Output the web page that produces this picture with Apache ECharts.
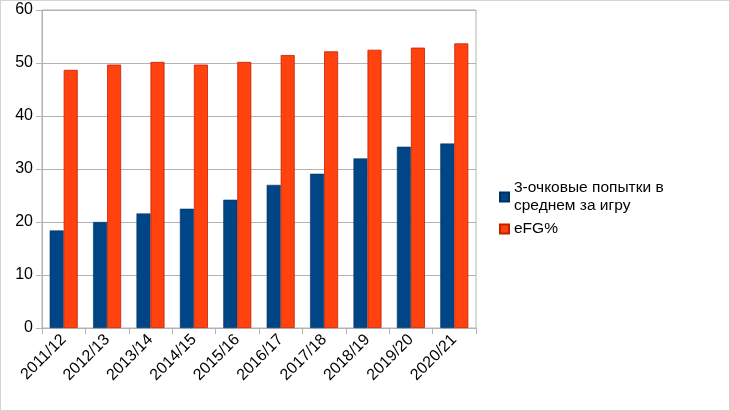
<!DOCTYPE html>
<html><head><meta charset="utf-8">
<script src="https://cdn.jsdelivr.net/npm/echarts@6/dist/echarts.min.js"></script>
<style>html,body{margin:0;padding:0;background:#fff}#c{width:730px;height:411px;box-sizing:border-box;border:1px solid #d4d4d4}</style>
</head><body><div id="c"></div>
<script>
const categories = ['2011/12','2012/13','2013/14','2014/15','2015/16','2016/17','2017/18','2018/19','2019/20','2020/21'];
const threePointAttempts = [18.4, 20.0, 21.6, 22.5, 24.2, 27.0, 29.1, 32.0, 34.2, 34.8];
const efgPercent = [48.7, 49.7, 50.2, 49.7, 50.2, 51.5, 52.2, 52.5, 52.9, 53.7];
const seriesNames = ['3-очковые попытки в\nсреднем за игру', 'eFG%'];
const yTicks = {min: 0, max: 60, interval: 10};

const chart = echarts.init(document.getElementById('c'));
const font = 'Liberation Sans, Arial, sans-serif';
chart.setOption({
  animation: false,
  textStyle: {fontFamily: font},
  grid: {left: 41, right: 253, top: 9, bottom: 82, show: true, borderColor: '#b3b3b3', borderWidth: 1},
  legend: {
    orient: 'vertical', left: 493, top: 173, itemWidth: 9, itemHeight: 9, itemGap: 5,
    icon: 'rect',
    textStyle: {fontSize: 15.5, color: '#000', fontFamily: font, lineHeight: 18},
    data: seriesNames
  },
  xAxis: {
    type: 'category', data: categories,
    axisLine: {lineStyle: {color: '#b3b3b3'}},
    axisTick: {show: true, length: 6, lineStyle: {color: '#b3b3b3'}},
    axisLabel: {rotate: 45, fontSize: 16, color: '#000', margin: 9, fontFamily: font, interval: 0}
  },
  yAxis: {
    type: 'value', min: yTicks.min, max: yTicks.max, interval: yTicks.interval,
    axisLine: {show: true, lineStyle: {color: '#b3b3b3'}},
    axisTick: {show: true, length: 6, lineStyle: {color: '#b3b3b3'}},
    splitLine: {lineStyle: {color: '#b3b3b3'}},
    axisLabel: {fontSize: 16, color: '#000', margin: 9, fontFamily: font}
  },
  series: [
    {name: seriesNames[0], type: 'bar', data: threePointAttempts, barWidth: 14, barGap: '0%',
     itemStyle: {color: '#004586', borderColor: '#00305e', borderWidth: 0.6}},
    {name: seriesNames[1], type: 'bar', data: efgPercent, barWidth: 14, barGap: '0%',
     itemStyle: {color: '#ff420e', borderColor: '#c51f00', borderWidth: 0.8}}
  ]
});
</script></body></html>
